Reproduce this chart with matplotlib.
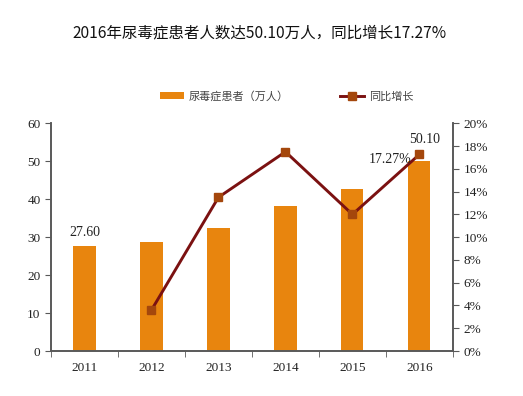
import matplotlib
matplotlib.use("Agg")
import matplotlib.pyplot as plt
from matplotlib.ticker import FuncFormatter

years = ["2011", "2012", "2013", "2014", "2015", "2016"]
patients = [27.60, 28.6, 32.5, 38.1, 42.72, 50.10]  # 万人
growth = [None, 3.6, 13.5, 17.5, 12.0, 17.27]  # %
title = "2016年尿毒症患者人数达50.10万人，同比增长17.27%"
bar_label = "尿毒症患者（万人）"
line_label = "同比增长"

plt.rcParams['font.family'] = ['Liberation Serif', 'Noto Sans CJK SC', 'DejaVu Sans']

fig = plt.figure(figsize=(5.23, 3.96), dpi=100)
ax = fig.add_axes([0.0975, 0.1136, 0.7685, 0.575])
ax2 = ax.twinx()

x = list(range(len(years)))
bar_color = "#E8850E"
line_color = "#7B1111"
marker_color = "#A4470C"
spine_color = "#595959"

bars = ax.bar(x, patients, width=0.33, color=bar_color, label=bar_label, zorder=2)
gx = [i for i, g in zip(x, growth) if g is not None]
gy = [g for g in growth if g is not None]
line, = ax2.plot(gx, gy, color=line_color, lw=2.1, marker='s', markersize=5.5,
                 markerfacecolor=marker_color, markeredgecolor=marker_color,
                 label=line_label, zorder=3)

ax.set_xlim(-0.5, len(years) - 0.5)
ax.set_ylim(0, 60)
ax.set_yticks(range(0, 61, 10))
ax2.set_ylim(0, 20)
ax2.set_yticks(range(0, 21, 2))
ax2.yaxis.set_major_formatter(FuncFormatter(lambda v, p: f"{int(v)}%"))

ax.set_xticks(x)
ax.set_xticklabels(years)
ax.set_xticks([i - 0.5 for i in range(len(years) + 1)], minor=True)
ax.tick_params(axis='x', which='major', length=0, pad=8)
ax.tick_params(axis='x', which='minor', length=4, direction='out', color=spine_color)

for a in (ax, ax2):
    a.spines['top'].set_visible(False)
    for s in ('left', 'right', 'bottom'):
        a.spines[s].set_color(spine_color)
        a.spines[s].set_linewidth(1.2)
ax.tick_params(axis='y', length=4, direction='out', color=spine_color, labelsize=9.5, labelcolor='#222222')
ax2.tick_params(axis='y', length=4, direction='out', color=spine_color, labelsize=9.5, labelcolor='#222222')
ax.tick_params(axis='x', labelsize=9.5, labelcolor='#222222')

# data labels
ax.annotate(f"{patients[0]:.2f}", (x[0], patients[0]), xytext=(0, 5),
            textcoords='offset points', ha='center', va='bottom', fontsize=10, color='#222222')
ax.annotate(f"{patients[-1]:.2f}", (x[-1], patients[-1]), xytext=(4, 11),
            textcoords='offset points', ha='center', va='bottom', fontsize=10, color='#222222')
ax2.annotate(f"{growth[-1]:.2f}%", (x[-1], growth[-1]), xytext=(-6, -4),
             textcoords='offset points', ha='right', va='center', fontsize=10, color='#222222')

fig.text(0.497, 0.917, title, ha='center', va='center', fontsize=11.2,
         family=['Noto Sans CJK SC', 'DejaVu Sans'], color='#111111')

leg = fig.legend(handles=[bars, line], labels=[bar_label, line_label],
                 loc='center', bbox_to_anchor=(0.548, 0.757), ncol=2, frameon=False,
                 prop={'family': ['Noto Sans CJK SC', 'DejaVu Sans'], 'size': 8},
                 handlelength=2.2, handleheight=0.6, columnspacing=4.6, handletextpad=0.4)
for t in leg.get_texts():
    t.set_color('#444444')

fig.savefig("out.png", dpi=100)
